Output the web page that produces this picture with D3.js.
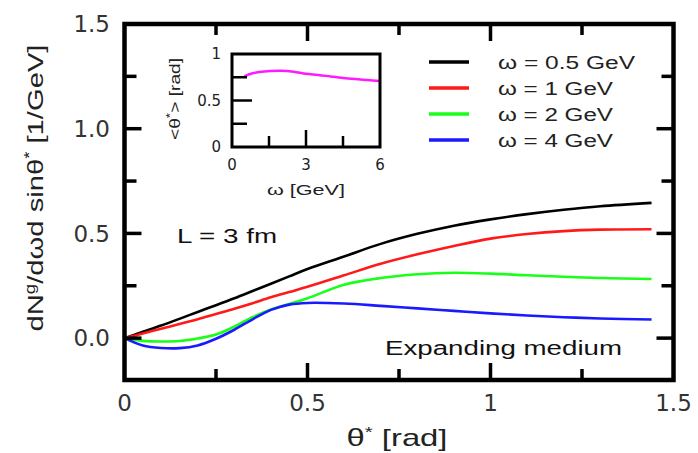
<!DOCTYPE html>
<html>
<head>
<meta charset="utf-8">
<script src="https://cdn.jsdelivr.net/npm/d3@7"></script>
<style>
  body { margin: 0; background: #fff; }
  svg { display: block; }
</style>
</head>
<body>
<div id="chart"></div>
<script>
// angle grid (rad) and the four spectra
var theta = [0, 0.05, 0.1, 0.15, 0.2, 0.25, 0.3, 0.35, 0.4, 0.45, 0.5, 0.6, 0.7, 0.8, 0.9, 1.0, 1.1, 1.2, 1.3, 1.44];
var w05 = [0, 0.03, 0.06, 0.092, 0.125, 0.157, 0.19, 0.225, 0.26, 0.295, 0.33, 0.39, 0.45, 0.498, 0.537, 0.567, 0.592, 0.613, 0.63, 0.646];
var w1  = [0, 0.022, 0.045, 0.067, 0.09, 0.115, 0.14, 0.167, 0.195, 0.22, 0.245, 0.3, 0.355, 0.4, 0.44, 0.475, 0.497, 0.511, 0.518, 0.52];
var w2  = [0, -0.013, -0.016, -0.014, -0.002, 0.017, 0.055, 0.1, 0.137, 0.163, 0.19, 0.255, 0.287, 0.305, 0.312, 0.308, 0.3, 0.293, 0.287, 0.282];
var w4  = [0, -0.035, -0.047, -0.048, -0.035, -0.003, 0.04, 0.09, 0.135, 0.16, 0.168, 0.165, 0.154, 0.142, 0.13, 0.118, 0.108, 0.1, 0.094, 0.089];
var seriesNames = ["ω = 0.5 GeV", "ω = 1 GeV", "ω = 2 GeV", "ω = 4 GeV"];
var seriesColors = ["#000000", "#ff1a1a", "#1aff1a", "#1a1aff"];

// inset: mean angle vs omega
var insetOmega = [0.5, 0.8, 1.2, 2, 2.5, 3, 3.5, 4, 4.5, 5, 5.5, 6];
var insetMean  = [0.76, 0.79, 0.81, 0.82, 0.81, 0.787, 0.775, 0.758, 0.742, 0.73, 0.72, 0.71];

var xTicks = [0, 0.5, 1, 1.5];
var xTickLabels = ["0", "0.5", "1", "1.5"];
var yTicks = [0, 0.5, 1.0, 1.5];
var yTickLabels = ["0.0", "0.5", "1.0", "1.5"];
var insetXTicks = [0, 3, 6];
var insetYTicks = [0, 0.5, 1];
var insetYTickLabels = ["0", "0.5", "1"];

var svgWidth = 698, svgHeight = 453;
var svg = d3.select("#chart").append("svg")
    .attr("width", svgWidth)
    .attr("height", svgHeight);

var x = d3.scaleLinear().domain([0, 1.5]).range([124.5, 673.5]);
var y = d3.scaleLinear().domain([-0.2, 1.5]).range([380, 24]);

var sans = "'Liberation Sans', Arial, sans-serif";
var tickFont = "'DejaVu Sans', sans-serif";

// curves
var data = [w05, w1, w2, w4];
var line = d3.line()
    .x(function(d) { return x(d[0]); })
    .y(function(d) { return y(d[1]); })
    .curve(d3.curveCatmullRom);

data.forEach(function(vals, i) {
    svg.append("path")
        .datum(theta.map(function(t, j) { return [t, vals[j]]; }))
        .attr("fill", "none")
        .attr("stroke", seriesColors[i])
        .attr("stroke-width", 2.6)
        .attr("d", line);
});

// frame + inward ticks
var frame = svg.append("g");
frame.append("rect")
    .attr("x", x(0)).attr("y", y(1.5))
    .attr("width", x(1.5) - x(0)).attr("height", y(-0.2) - y(1.5))
    .attr("fill", "none").attr("stroke", "#000").attr("stroke-width", 4.5);

var xt = d3.range(0.25, 1.5, 0.25);
xt.forEach(function(v) {
    var len = (Math.abs(v * 2 - Math.round(v * 2)) < 1e-6) ? 17 : 11;
    frame.append("line").attr("x1", x(v)).attr("x2", x(v))
        .attr("y1", y(1.5)).attr("y2", y(1.5) + len)
        .attr("stroke", "#000").attr("stroke-width", 3.5);
    frame.append("line").attr("x1", x(v)).attr("x2", x(v))
        .attr("y1", y(-0.2)).attr("y2", y(-0.2) - len)
        .attr("stroke", "#000").attr("stroke-width", 3.5);
});
var yt = [0, 0.25, 0.5, 0.75, 1.0, 1.25];
yt.forEach(function(v) {
    var len = (Math.abs(v * 2 - Math.round(v * 2)) < 1e-6) ? 17 : 12;
    frame.append("line").attr("x1", x(0)).attr("x2", x(0) + len)
        .attr("y1", y(v)).attr("y2", y(v))
        .attr("stroke", "#000").attr("stroke-width", 3.5);
    frame.append("line").attr("x1", x(1.5)).attr("x2", x(1.5) - len)
        .attr("y1", y(v)).attr("y2", y(v))
        .attr("stroke", "#000").attr("stroke-width", 3.5);
});

// tick labels
svg.selectAll(".xl").data(xTicks).enter().append("text")
    .attr("x", function(d) { return x(d); })
    .attr("y", 411)
    .attr("text-anchor", "middle")
    .style("font-family", tickFont).style("font-size", "23px").style("fill", "#333")
    .text(function(d, i) { return xTickLabels[i]; });

svg.selectAll(".yl").data(yTicks).enter().append("text")
    .attr("x", 110)
    .attr("y", function(d) { return y(d); })
    .attr("dy", "0.36em")
    .attr("text-anchor", "end")
    .style("font-family", tickFont).style("font-size", "23px").style("fill", "#333")
    .text(function(d, i) { return yTickLabels[i]; });

// axis titles
var xTitle = svg.append("text")
    .attr("x", 397).attr("y", 446)
    .attr("text-anchor", "middle")
    .attr("textLength", 101).attr("lengthAdjust", "spacingAndGlyphs")
    .style("font-family", sans).style("font-size", "24px").style("fill", "#222");
xTitle.append("tspan").text("θ");
xTitle.append("tspan").attr("dy", -9).style("font-size", "15px").text("*");
xTitle.append("tspan").attr("dy", 9).text(" [rad]");

var yTitle = svg.append("text")
    .attr("transform", "translate(43,188) rotate(-90)")
    .attr("text-anchor", "middle")
    .attr("textLength", 287).attr("lengthAdjust", "spacingAndGlyphs")
    .style("font-family", sans).style("font-size", "22px").style("fill", "#222");
yTitle.append("tspan").text("dN");
yTitle.append("tspan").attr("dy", -8).style("font-size", "14px").text("g");
yTitle.append("tspan").attr("dy", 8).text("/dωd sinθ");
yTitle.append("tspan").attr("dy", -9).style("font-size", "14px").text("*");
yTitle.append("tspan").attr("dy", 9).text("  [1/GeV]");

// annotations
svg.append("text")
    .attr("x", 177).attr("y", 243)
    .attr("textLength", 100).attr("lengthAdjust", "spacingAndGlyphs")
    .style("font-family", sans).style("font-size", "20px").style("fill", "#111")
    .text("L = 3 fm");

svg.append("text")
    .attr("x", 385).attr("y", 355)
    .attr("textLength", 237).attr("lengthAdjust", "spacingAndGlyphs")
    .style("font-family", sans).style("font-size", "20px").style("fill", "#111")
    .text("Expanding medium");

// legend
var legend = svg.append("g");
seriesNames.forEach(function(name, i) {
    var ly = 62 + i * 26;
    legend.append("line")
        .attr("x1", 429).attr("x2", 469).attr("y1", ly).attr("y2", ly)
        .attr("stroke", seriesColors[i]).attr("stroke-width", 3.5);
    legend.append("text")
        .attr("x", 498).attr("y", ly + 7)
        .attr("textLength", i === 0 ? 137 : 115).attr("lengthAdjust", "spacingAndGlyphs")
        .style("font-family", sans).style("font-size", "18px").style("fill", "#222")
        .text(name);
});

// inset
var ix = d3.scaleLinear().domain([0, 6]).range([232, 380]);
var iy = d3.scaleLinear().domain([0, 1]).range([147, 54]);
var inset = svg.append("g");

inset.append("path")
    .datum(insetOmega.map(function(o, j) { return [o, insetMean[j]]; }))
    .attr("fill", "none")
    .attr("stroke", "#ff1aff")
    .attr("stroke-width", 2.5)
    .attr("d", d3.line()
        .x(function(d) { return ix(d[0]); })
        .y(function(d) { return iy(d[1]); })
        .curve(d3.curveCatmullRom));

inset.append("rect")
    .attr("x", ix(0)).attr("y", iy(1))
    .attr("width", ix(6) - ix(0)).attr("height", iy(0) - iy(1))
    .attr("fill", "none").attr("stroke", "#000").attr("stroke-width", 3);

[0.25, 0.5, 0.75].forEach(function(v) {
    inset.append("line").attr("x1", ix(0)).attr("x2", ix(0) + (v === 0.5 ? 20 : 15))
        .attr("y1", iy(v)).attr("y2", iy(v))
        .attr("stroke", "#000").attr("stroke-width", 2.5);
});
[1.5, 3, 4.5].forEach(function(v) {
    inset.append("line").attr("x1", ix(v)).attr("x2", ix(v))
        .attr("y1", iy(0)).attr("y2", iy(0) - (v === 3 ? 17 : 11))
        .attr("stroke", "#000").attr("stroke-width", 2.5);
});

inset.selectAll(".ixl").data(insetXTicks).enter().append("text")
    .attr("x", function(d) { return ix(d); })
    .attr("y", 170)
    .attr("text-anchor", "middle")
    .style("font-family", tickFont).style("font-size", "15px").style("fill", "#222")
    .text(function(d) { return d; });

inset.selectAll(".iyl").data(insetYTicks).enter().append("text")
    .attr("x", 221)
    .attr("y", function(d) { return iy(d); })
    .attr("dy", "0.36em")
    .attr("text-anchor", "end")
    .style("font-family", tickFont).style("font-size", "15px").style("fill", "#222")
    .text(function(d, i) { return insetYTickLabels[i]; });

inset.append("text")
    .attr("x", 306).attr("y", 195)
    .attr("text-anchor", "middle")
    .attr("textLength", 78).attr("lengthAdjust", "spacingAndGlyphs")
    .style("font-family", sans).style("font-size", "14px").style("fill", "#222")
    .text("ω [GeV]");

var iyTitle = inset.append("text")
    .attr("transform", "translate(180,99) rotate(-90)")
    .attr("text-anchor", "middle")
    .attr("textLength", 82).attr("lengthAdjust", "spacingAndGlyphs")
    .style("font-family", sans).style("font-size", "14px").style("fill", "#222");
iyTitle.append("tspan").text("<θ");
iyTitle.append("tspan").attr("dy", -6).style("font-size", "10px").text("*");
iyTitle.append("tspan").attr("dy", 6).text("> [rad]");
</script>
</body>
</html>
